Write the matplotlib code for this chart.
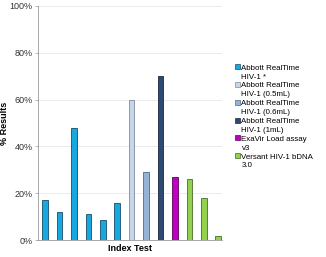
import numpy as np
import matplotlib.pyplot as plt
from matplotlib.patches import Patch

# Series labels (two lines each) and colours
series_labels = [('Abbott RealTime', 'HIV-1 *'), ('Abbott RealTime', 'HIV-1 (0.5mL)'),
                 ('Abbott RealTime', 'HIV-1 (0.6mL)'), ('Abbott RealTime', 'HIV-1 (1mL)'),
                 ('ExaVir Load assay', 'v3'), ('Versant HIV-1 bDNA', '3.0')]
series_colors = ['#17a8e0', '#c6d6ec', '#95b3d7', '#2c4a74', '#c000c0', '#92d050']
series_edges = ['#1a4a6a', '#7f8a98', '#4f6a8a', '#1a2a40', '#5a005a', '#4a6a2a']

# One bar per study, with the series it belongs to
bar_series = [0, 0, 0, 0, 0, 0, 1, 2, 3, 4, 5, 5, 5]
bar_values = [17, 12, 48, 11, 8.5, 16, 60, 29, 70, 27, 26, 18, 1.8]

plt.rcParams['font.family'] = ['Liberation Sans', 'DejaVu Sans']
fig = plt.figure(figsize=(3.26, 2.57), dpi=100)
ax = fig.add_axes([0.117, 0.066, 0.563, 0.911])

x = np.arange(len(bar_values))
ax.bar(x, bar_values, width=0.39,
       color=[series_colors[s] for s in bar_series],
       edgecolor=[series_edges[s] for s in bar_series], linewidth=0.6, zorder=3)

ax.set_xlim(-0.485, len(bar_values) - 1 + 0.24)
ax.set_ylim(0, 100)
ax.set_yticks([0, 20, 40, 60, 80, 100])
ax.set_yticklabels(['0%', '20%', '40%', '60%', '80%', '100%'], fontsize=6.5, color='#333333')
ax.set_xticks([])
ax.grid(axis='y', color='#e8e8e8', linewidth=0.6, zorder=0)
ax.tick_params(axis='y', length=2, width=0.5, color='#999999', pad=2)
for side in ['top', 'right']:
    ax.spines[side].set_visible(False)
for side in ['left', 'bottom']:
    ax.spines[side].set_color('#999999')
    ax.spines[side].set_linewidth(0.6)

ax.set_xlabel('Index Test', fontsize=6.5, fontweight='bold', labelpad=3)
ax.set_ylabel('% Results', fontsize=6.5, fontweight='bold')
ax.yaxis.set_label_coords(-0.16, 0.5)

# legend: marker on the first line of each label, second line without marker
handles, labels = [], []
for c, e, (l1, l2) in zip(series_colors, series_edges, series_labels):
    handles.append(Patch(facecolor=c, edgecolor=e, linewidth=0.5))
    labels.append(l1)
    handles.append(Patch(facecolor='none', edgecolor='none'))
    labels.append(l2)
fig.legend(handles, labels, loc='upper left', bbox_to_anchor=(0.708, 0.765),
           frameon=False, fontsize=5.7, handlelength=0.6, handleheight=0.6,
           handletextpad=0.25, labelspacing=0.2, borderpad=0)

fig.savefig('out.png', dpi=100)
